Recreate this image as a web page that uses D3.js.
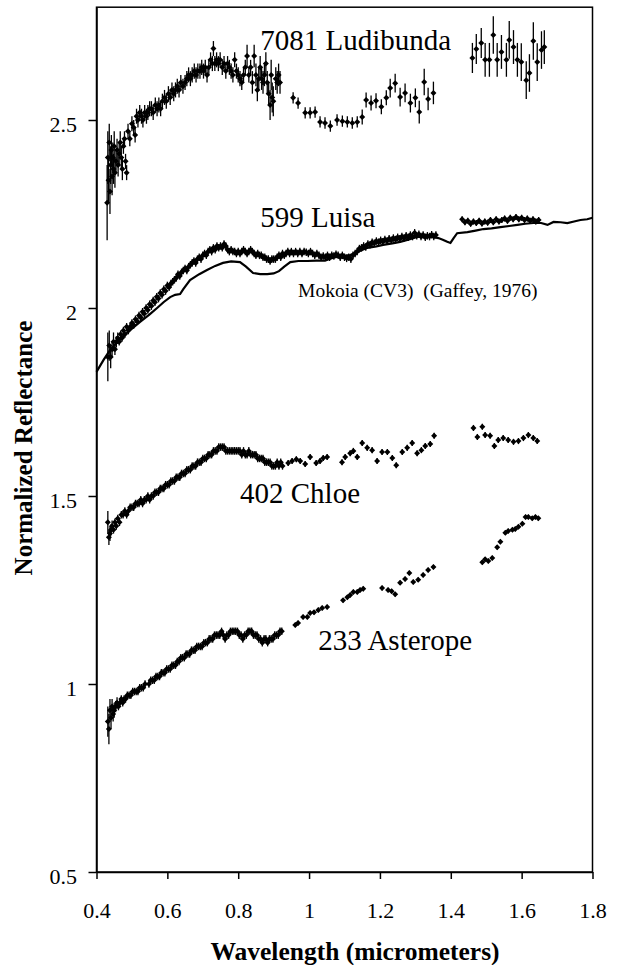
<!DOCTYPE html>
<html><head><meta charset="utf-8">
<script src="https://cdn.jsdelivr.net/npm/d3@7"></script>
<style>
body{margin:0;background:#fff}
svg text{font-family:"Liberation Serif","Times New Roman",serif !important;fill:#000}
</style>
</head><body>
<svg id="chart" width="621" height="965" font-family="Liberation Serif"></svg>
<script>
const xTicks=[0.4,0.6,0.8,1,1.2,1.4,1.6,1.8];
const xTickLabels=["0.4","0.6","0.8","1","1.2","1.4","1.6","1.8"];
const yTicks=[0.5,1,1.5,2,2.5];
const yTickLabels=["0.5","1","1.5","2","2.5"];
const seriesNames=["7081 Ludibunda","599 Luisa","402 Chloe","233 Asterope"];
const refName="Mokoia (CV3)  (Gaffey, 1976)";
const xTitle="Wavelength (micrometers)";
const yTitle="Normalized Reflectance";

// [wavelength, reflectance, error]
const ludibunda=[
[0.430,2.28,0.10],[0.432,2.40,0.07],[0.434,2.34,0.06],[0.436,2.44,0.05],[0.438,2.31,0.06],[0.440,2.38,0.05],[0.442,2.42,0.04],[0.444,2.35,0.05],[0.446,2.40,0.04],[0.448,2.37,0.04],[0.450,2.43,0.04],[0.452,2.36,0.04],[0.455,2.39,0.03],[0.458,2.42,0.03],[0.461,2.38,0.03],[0.464,2.41,0.03],[0.467,2.44,0.03],[0.470,2.40,0.03],[0.473,2.37,0.03],[0.476,2.43,0.02],[0.479,2.45,0.02],[0.482,2.39,0.02],[0.485,2.36,0.02],
[0.489,2.47,0.02],[0.494,2.45,0.02],[0.500,2.49,0.02],[0.505,2.48,0.02],[0.509,2.46,0.02],[0.513,2.51,0.02],[0.517,2.50,0.02],[0.522,2.52,0.02],[0.527,2.51,0.02],[0.531,2.50,0.02],[0.536,2.52,0.02],[0.541,2.51,0.02],[0.545,2.52,0.02],[0.550,2.53,0.02],[0.555,2.53,0.02],[0.560,2.52,0.02],[0.566,2.54,0.02],[0.571,2.53,0.02],[0.576,2.54,0.02],[0.581,2.53,0.02],[0.586,2.55,0.02],[0.592,2.56,0.02],[0.597,2.55,0.02],[0.603,2.57,0.02],[0.608,2.56,0.02],[0.613,2.58,0.02],[0.618,2.57,0.02],[0.623,2.58,0.02],[0.628,2.59,0.02],[0.633,2.58,0.02],[0.638,2.60,0.02],[0.644,2.59,0.02],[0.650,2.60,0.02],[0.655,2.61,0.02],[0.660,2.62,0.02],[0.665,2.61,0.02],[0.670,2.62,0.02],[0.676,2.63,0.02],[0.681,2.62,0.02],[0.686,2.63,0.02],[0.692,2.63,0.02],[0.697,2.64,0.02],[0.702,2.63,0.02],[0.707,2.64,0.02],[0.712,2.62,0.02],[0.717,2.64,0.02],[0.722,2.66,0.02],[0.727,2.65,0.02],[0.730,2.69,0.02],[0.734,2.65,0.02],[0.739,2.66,0.02],[0.744,2.65,0.02],[0.749,2.66,0.02],[0.755,2.64,0.02],[0.760,2.65,0.02],[0.765,2.63,0.02],[0.770,2.65,0.02],[0.775,2.64,0.02],[0.780,2.63,0.02],[0.785,2.62,0.02],[0.790,2.66,0.02],[0.795,2.63,0.02],[0.800,2.62,0.02],[0.805,2.61,0.02],[0.810,2.60,0.02],[0.815,2.62,0.02],[0.820,2.64,0.02],[0.825,2.67,0.03],[0.830,2.62,0.02],[0.835,2.64,0.02],[0.840,2.60,0.03],[0.845,2.67,0.03],[0.850,2.62,0.03],[0.854,2.58,0.03],[0.858,2.61,0.03],[0.862,2.64,0.03],[0.866,2.61,0.03],[0.870,2.60,0.03],[0.874,2.62,0.03],[0.878,2.65,0.03],[0.882,2.60,0.03],[0.886,2.57,0.03],[0.890,2.54,0.04],[0.893,2.62,0.04],[0.896,2.56,0.04],[0.899,2.55,0.04],[0.906,2.61,0.03],[0.910,2.60,0.03],[0.914,2.62,0.03],[0.918,2.60,0.03],
[0.955,2.559,0.015],[0.969,2.545,0.015],[0.989,2.519,0.015],[1.003,2.519,0.015],[1.017,2.521,0.015],[1.031,2.495,0.015],[1.045,2.492,0.015],[1.060,2.484,0.015],[1.079,2.500,0.015],[1.094,2.497,0.015],[1.108,2.495,0.015],[1.122,2.492,0.015],[1.136,2.495,0.015],[1.150,2.508,0.02],[1.161,2.553,0.02],[1.175,2.545,0.02],[1.189,2.551,0.02],[1.204,2.535,0.02],[1.218,2.559,0.02],[1.229,2.585,0.025],[1.243,2.598,0.025],[1.257,2.561,0.025],[1.271,2.572,0.025],[1.286,2.545,0.025],[1.300,2.559,0.025],[1.311,2.521,0.03],[1.325,2.601,0.035],[1.336,2.556,0.03],[1.351,2.572,0.03],
[1.461,2.665,0.04],[1.472,2.689,0.04],[1.486,2.705,0.04],[1.497,2.660,0.045],[1.509,2.660,0.045],[1.520,2.726,0.05],[1.531,2.660,0.045],[1.543,2.681,0.045],[1.557,2.660,0.045],[1.565,2.713,0.05],[1.577,2.694,0.045],[1.588,2.660,0.045],[1.599,2.654,0.05],[1.613,2.606,0.05],[1.622,2.625,0.05],[1.633,2.710,0.05],[1.644,2.654,0.05],[1.656,2.686,0.05],[1.664,2.694,0.045]
];

const luisa=[
[0.432,1.87,0.065],[0.436,1.90,0.04],[0.440,1.87,0.03],[0.444,1.89,0.02],[0.448,1.91,0.025],[0.452,1.89,0.015],[0.456,1.91,0.015],[0.460,1.92,0.015],[0.464,1.91,0.01],[0.468,1.93,0.01],[0.472,1.92,0.01],[0.476,1.94,0.01],[0.480,1.93,0.01],[0.485,1.95,0.01],[0.490,1.94,0.01],[0.495,1.95,0.01],[0.500,1.96,0.01],[0.505,1.955,0.01],[0.510,1.97,0.01],[0.515,1.965,0.01],[0.520,1.98,0.01],[0.525,1.975,0.01],[0.530,1.99,0.01],[0.535,1.985,0.01],[0.540,2.00,0.01],[0.545,1.995,0.01],[0.550,2.01,0.01],[0.555,2.005,0.01],[0.560,2.02,0.01],[0.565,2.015,0.01],[0.570,2.03,0.01],[0.575,2.025,0.01],[0.580,2.04,0.01],[0.585,2.035,0.01],[0.590,2.05,0.01],[0.595,2.045,0.01],[0.600,2.06,0.01],[0.605,2.055,0.01],[0.610,2.065,0.01],[0.615,2.07,0.01],[0.620,2.075,0.01],[0.625,2.08,0.01],[0.630,2.09,0.01],[0.635,2.085,0.01],[0.640,2.095,0.01],[0.645,2.10,0.01],[0.650,2.105,0.01],[0.655,2.10,0.01],[0.660,2.11,0.01],[0.665,2.115,0.01],[0.670,2.12,0.01],[0.675,2.125,0.01],[0.680,2.12,0.01],[0.685,2.13,0.01],[0.690,2.135,0.01],[0.695,2.13,0.01],[0.700,2.14,0.01],[0.705,2.145,0.01],[0.710,2.14,0.01],[0.715,2.15,0.01],[0.720,2.155,0.01],[0.725,2.15,0.01],[0.730,2.16,0.01],[0.735,2.155,0.01],[0.740,2.165,0.01],[0.745,2.16,0.01],[0.750,2.165,0.01],[0.755,2.16,0.01],[0.760,2.17,0.01],[0.765,2.165,0.01],[0.770,2.155,0.01],[0.775,2.15,0.01],[0.780,2.155,0.01],[0.785,2.15,0.01],[0.790,2.15,0.01],[0.795,2.145,0.01],[0.800,2.15,0.01],[0.805,2.145,0.01],[0.810,2.15,0.01],[0.815,2.155,0.01],[0.820,2.15,0.01],[0.825,2.145,0.01],[0.830,2.15,0.01],[0.835,2.155,0.01],[0.840,2.15,0.01],[0.845,2.145,0.01],[0.850,2.14,0.01],[0.855,2.145,0.01],[0.860,2.14,0.01],[0.865,2.14,0.01],[0.870,2.135,0.01],[0.875,2.135,0.01],[0.880,2.13,0.01],[0.885,2.13,0.01],[0.890,2.125,0.01],[0.895,2.13,0.01],[0.900,2.13,0.01],[0.905,2.13,0.01],[0.910,2.135,0.01],[0.915,2.14,0.01],[0.920,2.135,0.01],[0.925,2.145,0.01],[0.930,2.14,0.01],[0.935,2.145,0.01],[0.940,2.15,0.01],[0.945,2.145,0.01],[0.950,2.15,0.01],[0.956,2.145,0.01],[0.962,2.15,0.01],[0.968,2.145,0.01],[0.974,2.15,0.01],[0.980,2.145,0.01],[0.986,2.15,0.01],[0.992,2.148,0.01],[0.998,2.145,0.01],[1.004,2.15,0.01],[1.010,2.145,0.01],[1.016,2.14,0.01],[1.022,2.145,0.01],[1.028,2.14,0.01],[1.034,2.135,0.01],[1.040,2.138,0.01],[1.046,2.135,0.01],[1.052,2.14,0.01],[1.058,2.135,0.01],[1.064,2.14,0.01],[1.070,2.138,0.01],[1.076,2.143,0.01],[1.082,2.14,0.01],[1.088,2.135,0.01],[1.094,2.14,0.01],[1.100,2.135,0.01],[1.106,2.132,0.01],[1.112,2.135,0.01],[1.118,2.13,0.01],[1.124,2.14,0.01],[1.130,2.145,0.01],[1.136,2.15,0.01],[1.142,2.158,0.01],[1.148,2.16,0.01],[1.154,2.165,0.01],[1.160,2.162,0.01],[1.166,2.17,0.01],[1.172,2.168,0.01],[1.178,2.175,0.01],[1.184,2.172,0.01],[1.190,2.178,0.01],[1.196,2.175,0.01],[1.202,2.18,0.01],[1.208,2.176,0.01],[1.214,2.182,0.01],[1.220,2.178,0.01],[1.226,2.184,0.01],[1.232,2.18,0.01],[1.238,2.186,0.01],[1.244,2.182,0.01],[1.250,2.188,0.01],[1.256,2.184,0.01],[1.262,2.19,0.01],[1.268,2.186,0.01],[1.274,2.192,0.01],[1.280,2.188,0.01],[1.286,2.194,0.01],[1.292,2.19,0.01],[1.298,2.2,0.01],[1.304,2.192,0.01],[1.310,2.196,0.01],[1.316,2.19,0.01],[1.322,2.194,0.01],[1.328,2.188,0.01],[1.334,2.192,0.01],[1.340,2.19,0.01],[1.346,2.195,0.01],[1.352,2.19,0.01],[1.358,2.194,0.01],
[1.432,2.236,0.008],[1.440,2.228,0.008],[1.448,2.232,0.008],[1.456,2.224,0.008],[1.464,2.230,0.008],[1.472,2.226,0.008],[1.480,2.232,0.008],[1.488,2.225,0.008],[1.496,2.230,0.008],[1.504,2.227,0.008],[1.512,2.234,0.008],[1.520,2.228,0.008],[1.528,2.236,0.008],[1.536,2.230,0.008],[1.544,2.234,0.008],[1.552,2.238,0.008],[1.560,2.232,0.008],[1.568,2.240,0.008],[1.576,2.236,0.008],[1.584,2.242,0.008],[1.592,2.236,0.008],[1.600,2.240,0.008],[1.608,2.234,0.008],[1.616,2.238,0.008],[1.624,2.232,0.008],[1.632,2.236,0.008],[1.640,2.230,0.008],[1.648,2.234,0.008]
];

const chloe=[
[0.432,1.43,0.03],[0.435,1.39,0.02],[0.438,1.40,0.02],[0.441,1.41,0.015],[0.444,1.42,0.015],[0.448,1.41,0.01],[0.452,1.43,0.01],[0.456,1.42,0.01],[0.460,1.44,0.01],[0.465,1.43,0.01],[0.470,1.45,0.01],[0.475,1.45,0.01],[0.480,1.46,0.01],[0.485,1.45,0.01],[0.490,1.46,0.01],[0.495,1.47,0.01],[0.500,1.47,0.01],[0.505,1.47,0.01],[0.510,1.48,0.01],[0.515,1.48,0.01],[0.520,1.48,0.01],[0.525,1.49,0.01],[0.530,1.48,0.01],[0.535,1.49,0.01],[0.540,1.49,0.01],[0.545,1.50,0.01],[0.550,1.49,0.01],[0.555,1.50,0.01],[0.560,1.50,0.01],[0.565,1.51,0.01],[0.570,1.51,0.01],[0.575,1.51,0.01],[0.580,1.52,0.01],[0.585,1.52,0.01],[0.590,1.52,0.01],[0.595,1.53,0.01],[0.600,1.53,0.01],[0.605,1.53,0.01],[0.610,1.54,0.01],[0.615,1.54,0.01],[0.620,1.54,0.01],[0.625,1.55,0.01],[0.630,1.55,0.01],[0.635,1.55,0.01],[0.640,1.56,0.01],[0.645,1.56,0.01],[0.650,1.56,0.01],[0.655,1.57,0.01],[0.660,1.57,0.01],[0.665,1.57,0.01],[0.670,1.58,0.01],[0.675,1.58,0.01],[0.680,1.58,0.01],[0.685,1.59,0.01],[0.690,1.59,0.01],[0.695,1.59,0.01],[0.700,1.60,0.01],[0.705,1.60,0.01],[0.710,1.60,0.01],[0.715,1.61,0.01],[0.720,1.61,0.01],[0.725,1.61,0.01],[0.730,1.62,0.01],[0.735,1.62,0.01],[0.740,1.62,0.01],[0.745,1.63,0.01],[0.750,1.63,0.01],[0.755,1.63,0.01],[0.760,1.63,0.01],[0.765,1.62,0.01],[0.770,1.62,0.01],[0.775,1.62,0.01],[0.780,1.62,0.01],[0.785,1.62,0.01],[0.790,1.62,0.01],[0.795,1.62,0.01],[0.800,1.62,0.01],[0.805,1.62,0.01],[0.810,1.61,0.01],[0.815,1.62,0.01],[0.820,1.61,0.01],[0.825,1.61,0.01],[0.830,1.62,0.01],[0.835,1.61,0.01],[0.840,1.61,0.01],[0.845,1.61,0.01],[0.850,1.61,0.01],[0.855,1.60,0.01],[0.860,1.60,0.01],[0.865,1.60,0.01],[0.870,1.60,0.01],[0.875,1.59,0.01],[0.880,1.59,0.01],[0.885,1.59,0.01],[0.890,1.59,0.01],[0.895,1.58,0.01],[0.900,1.58,0.01],[0.905,1.58,0.01],[0.910,1.59,0.01],[0.915,1.58,0.01],[0.920,1.59,0.01],[0.925,1.58,0.01],
[0.941,1.588,0.008],[0.952,1.593,0.008],[0.964,1.598,0.008],[0.975,1.593,0.008],[0.989,1.585,0.008],[1.003,1.604,0.008],[1.020,1.588,0.008],[1.031,1.593,0.008],[1.040,1.601,0.008],[1.051,1.604,0.008],
[1.093,1.590,0.008],[1.102,1.604,0.008],[1.116,1.614,0.008],[1.125,1.620,0.008],[1.136,1.604,0.008],[1.150,1.641,0.008],[1.164,1.628,0.008],[1.178,1.622,0.008],[1.192,1.593,0.008],[1.206,1.617,0.008],[1.221,1.617,0.008],[1.235,1.601,0.008],[1.246,1.582,0.008],[1.263,1.617,0.008],[1.277,1.628,0.008],[1.291,1.641,0.008],[1.305,1.614,0.008],[1.317,1.622,0.008],[1.328,1.633,0.008],[1.342,1.638,0.008],[1.353,1.660,0.008],
[1.464,1.681,0.008],[1.475,1.657,0.008],[1.489,1.684,0.008],[1.497,1.662,0.008],[1.511,1.660,0.008],[1.523,1.633,0.008],[1.534,1.649,0.008],[1.548,1.654,0.008],[1.562,1.649,0.008],[1.577,1.644,0.008],[1.591,1.646,0.008],[1.605,1.654,0.008],[1.619,1.662,0.008],[1.633,1.654,0.008],[1.644,1.646,0.008]
];

const asterope=[
[0.432,0.90,0.04],[0.435,0.88,0.04],[0.438,0.93,0.03],[0.441,0.91,0.03],[0.444,0.94,0.02],[0.447,0.92,0.02],[0.450,0.93,0.02],[0.454,0.94,0.015],[0.458,0.95,0.015],[0.462,0.94,0.01],[0.466,0.95,0.01],[0.470,0.96,0.01],[0.474,0.95,0.01],[0.478,0.96,0.01],[0.482,0.96,0.01],[0.487,0.97,0.01],[0.492,0.97,0.01],[0.497,0.97,0.01],[0.502,0.98,0.01],[0.507,0.98,0.01],[0.512,0.98,0.01],[0.517,0.98,0.01],[0.522,0.99,0.01],[0.527,0.99,0.01],[0.532,0.99,0.01],[0.537,1.00,0.01],[0.548,1.00,0.01],[0.553,1.01,0.01],[0.558,1.01,0.01],[0.563,1.01,0.01],[0.568,1.02,0.01],[0.573,1.02,0.01],[0.578,1.02,0.01],[0.583,1.03,0.01],[0.588,1.03,0.01],[0.593,1.03,0.01],[0.598,1.04,0.01],[0.603,1.04,0.01],[0.608,1.04,0.01],[0.613,1.05,0.01],[0.618,1.05,0.01],[0.623,1.05,0.01],[0.628,1.06,0.01],[0.633,1.06,0.01],[0.638,1.07,0.01],[0.643,1.07,0.01],[0.648,1.07,0.01],[0.653,1.08,0.01],[0.658,1.08,0.01],[0.663,1.08,0.01],[0.668,1.09,0.01],[0.673,1.09,0.01],[0.678,1.09,0.01],[0.683,1.10,0.01],[0.688,1.10,0.01],[0.693,1.10,0.01],[0.698,1.10,0.01],[0.703,1.11,0.01],[0.708,1.11,0.01],[0.713,1.11,0.01],[0.718,1.12,0.01],[0.723,1.12,0.01],[0.728,1.12,0.01],[0.733,1.13,0.01],[0.738,1.13,0.01],[0.743,1.13,0.01],[0.748,1.13,0.01],[0.753,1.14,0.01],[0.758,1.13,0.01],[0.763,1.12,0.01],[0.768,1.13,0.01],[0.773,1.13,0.01],[0.778,1.14,0.01],[0.783,1.14,0.01],[0.788,1.14,0.01],[0.793,1.14,0.01],[0.798,1.14,0.01],[0.803,1.13,0.01],[0.808,1.13,0.01],[0.813,1.12,0.01],[0.818,1.13,0.01],[0.823,1.13,0.01],[0.828,1.14,0.01],[0.833,1.14,0.01],[0.838,1.14,0.01],[0.843,1.13,0.01],[0.848,1.13,0.01],[0.853,1.13,0.01],[0.858,1.12,0.01],[0.863,1.12,0.01],[0.868,1.11,0.01],[0.873,1.12,0.01],[0.878,1.12,0.01],[0.883,1.11,0.01],[0.888,1.12,0.01],[0.893,1.12,0.01],[0.898,1.12,0.01],[0.903,1.13,0.01],[0.908,1.13,0.01],[0.913,1.13,0.01],[0.918,1.14,0.01],[0.923,1.14,0.01],
[0.961,1.157,0.006],[0.969,1.162,0.006],[0.983,1.178,0.006],[0.995,1.178,0.006],[1.003,1.189,0.006],[1.014,1.191,0.006],[1.026,1.197,0.006],[1.037,1.202,0.006],[1.051,1.205,0.006],
[1.096,1.223,0.006],[1.108,1.231,0.006],[1.116,1.237,0.006],[1.125,1.245,0.006],[1.136,1.245,0.006],[1.144,1.250,0.006],[1.153,1.253,0.006],
[1.206,1.255,0.006],[1.223,1.250,0.006],[1.233,1.247,0.006],[1.243,1.239,0.006],[1.257,1.269,0.006],[1.271,1.279,0.006],[1.283,1.295,0.006],[1.294,1.271,0.006],[1.308,1.277,0.006],[1.322,1.290,0.006],[1.336,1.303,0.006],[1.351,1.311,0.006],
[1.489,1.324,0.006],[1.497,1.332,0.006],[1.506,1.327,0.006],[1.517,1.335,0.006],[1.531,1.364,0.006],[1.540,1.378,0.006],[1.554,1.402,0.006],[1.562,1.407,0.006],[1.574,1.410,0.006],[1.582,1.412,0.006],[1.591,1.418,0.006],[1.602,1.426,0.006],[1.611,1.444,0.006],[1.619,1.444,0.006],[1.630,1.441,0.006],[1.639,1.444,0.006],[1.647,1.441,0.006]
];

// Mokoia (CV3) meteorite reference curve [wavelength, reflectance]
const mokoia=[
[0.400,1.830],[0.420,1.862],[0.438,1.888],[0.455,1.905],[0.475,1.925],[0.500,1.945],[0.523,1.963],[0.550,1.983],[0.571,2.000],[0.590,2.016],[0.608,2.029],[0.622,2.035],[0.636,2.037],[0.645,2.050],[0.664,2.074],[0.690,2.090],[0.712,2.101],[0.735,2.112],[0.757,2.120],[0.780,2.124],[0.805,2.122],[0.822,2.110],[0.842,2.093],[0.862,2.090],[0.882,2.090],[0.900,2.092],[0.915,2.098],[0.930,2.110],[0.947,2.122],[0.970,2.125],[0.995,2.125],[1.020,2.126],[1.045,2.126],[1.068,2.134],[1.090,2.138],[1.116,2.141],[1.140,2.150],[1.164,2.160],[1.190,2.164],[1.209,2.168],[1.235,2.172],[1.257,2.176],[1.280,2.182],[1.305,2.189],[1.330,2.190],[1.351,2.189],[1.365,2.186],[1.379,2.181],[1.390,2.176],[1.399,2.173],[1.408,2.186],[1.418,2.199],[1.447,2.202],[1.470,2.206],[1.492,2.210],[1.515,2.212],[1.540,2.215],[1.565,2.218],[1.588,2.221],[1.610,2.224],[1.633,2.226],[1.655,2.226],[1.673,2.221],[1.690,2.229],[1.710,2.228],[1.729,2.226],[1.748,2.230],[1.766,2.234],[1.785,2.236],[1.800,2.240]
];

// label anchor positions in data units [wavelength, reflectance]
const labelAnchors=[[0.862,2.686],[0.862,2.215],[0.805,1.481],[1.026,1.090]];
const refAnchor=[0.969,2.029];

const FONT='"Liberation Serif","Times New Roman",serif';
const svg=d3.select("#chart");
const x=d3.scaleLinear().domain([0.4,1.8]).range([96.5,592.5]);
const y=d3.scaleLinear().domain([0.5,2.8]).range([872,7.2]);

// x axis
const gx=svg.append("g").attr("transform",`translate(0,${y(0.5)})`)
  .call(d3.axisBottom(x).tickValues(xTicks).tickSize(7).tickSizeOuter(0)
    .tickFormat((d,i)=>xTickLabels[i]));
gx.attr("font-family",FONT).attr("font-size",22);
gx.selectAll("text").attr("y",46).attr("dy",0).attr("font-family",FONT);
gx.selectAll("line,path").attr("stroke","#000").attr("stroke-width",1.5);

// y axis
const gy=svg.append("g").attr("transform",`translate(${x(0.4)},0)`)
  .call(d3.axisLeft(y).tickValues(yTicks).tickSize(8).tickSizeOuter(0)
    .tickFormat((d,i)=>yTickLabels[i]));
gy.attr("font-family",FONT).attr("font-size",22);
gy.selectAll("text").attr("x",-19.5).attr("dy","0.5em").attr("font-family",FONT);
gy.selectAll("line,path").attr("stroke","#000").attr("stroke-width",1.5);

// frame
svg.append("rect").attr("x",x(0.4)).attr("y",y(2.8))
  .attr("width",x(1.8)-x(0.4)).attr("height",y(0.5)-y(2.8))
  .attr("fill","none").attr("stroke","#000").attr("stroke-width",1.5);

// Mokoia line
svg.append("path").datum(mokoia)
  .attr("d",d3.line().x(d=>x(d[0])).y(d=>y(d[1])))
  .attr("fill","none").attr("stroke","#000").attr("stroke-width",2.2);

const diamond=d3.symbol().type(d3.symbolSquare).size(18)();
function drawSeries(data){
  const g=svg.append("g");
  g.selectAll("line").data(data).join("line")
    .attr("x1",d=>x(d[0])).attr("x2",d=>x(d[0]))
    .attr("y1",d=>y(d[1]-d[2])).attr("y2",d=>y(d[1]+d[2]))
    .attr("stroke","#000").attr("stroke-width",1.3);
  g.selectAll("path").data(data).join("path")
    .attr("d",diamond)
    .attr("transform",d=>`translate(${x(d[0])},${y(d[1])}) rotate(45)`)
    .attr("fill","#000");
}
[ludibunda,luisa,chloe,asterope].forEach(drawSeries);

// series labels
svg.selectAll("text.lab").data(seriesNames).join("text").attr("class","lab")
  .attr("x",(d,i)=>x(labelAnchors[i][0])).attr("y",(d,i)=>y(labelAnchors[i][1]))
  .attr("font-family",FONT).attr("font-size",29).text(d=>d);
svg.append("text").attr("x",x(refAnchor[0])).attr("y",y(refAnchor[1]))
  .attr("font-family",FONT).attr("font-size",19.5).attr("xml:space","preserve")
  .style("white-space","pre").text(refName);

// axis titles
svg.append("text").attr("x",355).attr("y",960).attr("text-anchor","middle")
  .attr("font-family",FONT).attr("font-size",25.5).attr("font-weight","bold").text(xTitle);
svg.append("text").attr("transform","translate(32,448) rotate(-90)").attr("text-anchor","middle")
  .attr("font-family",FONT).attr("font-size",25).attr("font-weight","bold").text(yTitle);
</script>
</body></html>
